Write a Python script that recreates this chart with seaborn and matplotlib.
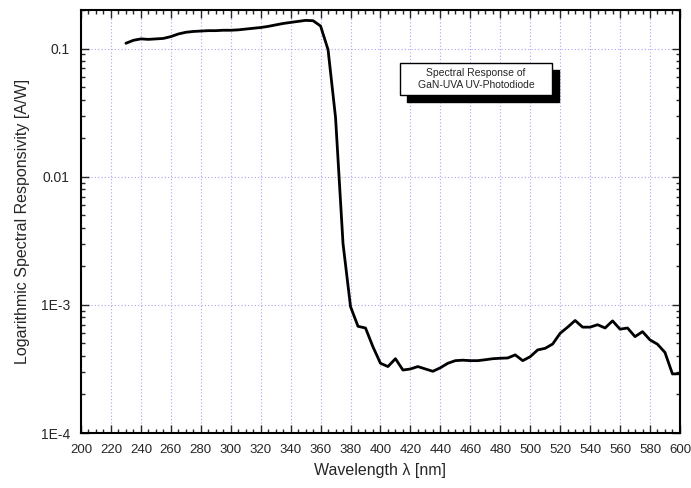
import numpy as np
import pandas as pd
import matplotlib
matplotlib.use('Agg')
import matplotlib.pyplot as plt
import matplotlib.ticker as mticker
from matplotlib.patches import Rectangle
import seaborn as sns

# Spectral response data
wavelength = [230, 235, 240, 245, 250, 255, 260, 265, 270, 275, 280, 285, 290, 295,
              300, 305, 310, 315, 320, 325, 330, 335, 340, 345, 350, 355, 360, 365,
              370, 375, 380, 385, 390, 395, 400, 405, 410, 415, 420, 425, 430, 435,
              440, 445, 450, 455, 460, 465, 470, 475, 480, 485, 490, 495, 500, 505,
              510, 515, 520, 525, 530, 535, 540, 545, 550, 555, 560, 565, 570, 575,
              580, 585, 590, 595, 600]
responsivity = [0.110, 0.116, 0.119, 0.118, 0.119, 0.120, 0.124, 0.130, 0.134, 0.136,
                0.137, 0.138, 0.138, 0.139, 0.139, 0.140, 0.142, 0.144, 0.146, 0.149,
                0.153, 0.157, 0.160, 0.163, 0.166, 0.165, 0.150, 0.098, 0.029, 0.0030,
                0.00097, 0.00068, 0.00066, 0.00047, 0.00035, 0.00033, 0.00038, 0.00031,
                0.000316, 0.00033, 0.000316, 0.000303, 0.000323, 0.00035, 0.000367,
                0.00037, 0.000367, 0.000367, 0.000373, 0.00038, 0.000383, 0.000385,
                0.000407, 0.000367, 0.000394, 0.000445, 0.000458, 0.000495, 0.0006,
                0.00067, 0.000755, 0.00067, 0.00067, 0.0007, 0.00066, 0.00075, 0.000646,
                0.00066, 0.000565, 0.000618, 0.000533, 0.000493, 0.000425, 0.000289,
                0.00029]

x_ticks = list(range(200, 601, 20))
y_ticks = [1e-4, 1e-3, 1e-2, 1e-1]
y_tick_labels = ['1E-4', '1E-3', '0.01', '0.1']

df = pd.DataFrame({'wavelength': wavelength, 'responsivity': responsivity})

sns.set_style('ticks')
plt.rcParams['font.family'] = ['Liberation Sans', 'DejaVu Sans']

fig = plt.figure(figsize=(6.91, 4.88), dpi=100)
ax = fig.add_axes([0.1172, 0.1127, 0.8668, 0.8668])

sns.lineplot(data=df, x='wavelength', y='responsivity', color='black', linewidth=2, ax=ax)

ax.set_yscale('log')
ax.set_xlim(200, 600)
ax.set_ylim(1e-4, 0.2)

ax.xaxis.set_major_locator(mticker.FixedLocator(x_ticks))
ax.xaxis.set_minor_locator(mticker.MultipleLocator(5))
ax.yaxis.set_major_locator(mticker.FixedLocator(y_ticks))
ax.yaxis.set_major_formatter(mticker.FixedFormatter(y_tick_labels))
ax.yaxis.set_minor_locator(mticker.LogLocator(base=10, subs=np.arange(2, 10)))
ax.yaxis.set_minor_formatter(mticker.NullFormatter())

ax.tick_params(which='both', direction='in', top=True, right=True, width=1)
ax.tick_params(which='major', length=6)
ax.tick_params(which='minor', length=3)
ax.tick_params(axis='x', which='major', labelsize=9.5, pad=8)
ax.tick_params(axis='y', which='major', labelsize=10, pad=8)
for sp in ax.spines.values():
    sp.set_linewidth(1.5)
    sp.set_color('black')

ax.grid(True, which='major', color='#a8a8f4', linestyle=(0, (1, 2)), linewidth=0.8)

ax.set_xlabel('Wavelength λ [nm]', fontsize=11.5, labelpad=5)
ax.set_ylabel('Logarithmic Spectral Responsivity [A/W]', fontsize=11.5, labelpad=8)

# annotation box with shadow
ax.add_patch(Rectangle((0.5443, 0.7825), 0.2534, 0.0757, transform=ax.transAxes,
                       facecolor='black', edgecolor='black', zorder=5))
ax.add_patch(Rectangle((0.5326, 0.799), 0.2534, 0.0757, transform=ax.transAxes,
                       facecolor='white', edgecolor='black', linewidth=1, zorder=6))
ax.text(0.6593, 0.8368, 'Spectral Response of\nGaN-UVA UV-Photodiode', transform=ax.transAxes,
        ha='center', va='center', fontsize=7.5, linespacing=1.25, zorder=7)

fig.savefig('out.png', dpi=100)
